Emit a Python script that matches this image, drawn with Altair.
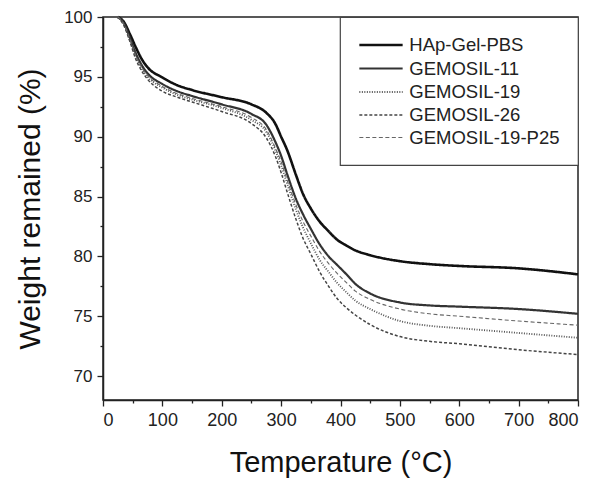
import altair as alt
import pandas as pd

temperature = [25, 35, 45, 55, 65, 75, 100, 125, 150, 200, 250, 275, 290, 300, 310,
               325, 337, 350, 365, 380, 394, 410, 425, 450, 500, 550, 600, 700, 800]

hap_gel_pbs = [100, 99.6, 98.6, 97.5, 96.5, 95.8, 94.95, 94.3, 93.9, 93.3, 92.7, 92.0, 91.1, 90.0, 88.9,
               86.8, 85.2, 84.0, 82.9, 82.1, 81.4, 80.9, 80.5, 80.1, 79.6, 79.35, 79.2, 79.0, 78.5]
gemosil_11 = [100, 99.5, 98.3, 97.0, 96.0, 95.3, 94.4, 93.8, 93.4, 92.7, 91.9, 91.0, 89.6, 88.4, 86.9,
              84.8, 83.5, 82.3, 81.0, 80.0, 79.3, 78.5, 77.7, 76.9, 76.15, 75.9, 75.8, 75.6, 75.2]
gemosil_19 = [100, 99.4, 98.1, 96.7, 95.7, 95.0, 94.1, 93.5, 93.1, 92.4, 91.4, 90.4, 88.9, 87.6, 86.1,
              83.9, 82.4, 81.1, 79.7, 78.7, 77.8, 77.0, 76.3, 75.6, 74.6, 74.2, 74.0, 73.6, 73.2]
gemosil_26 = [100, 99.3, 98.0, 96.5, 95.5, 94.8, 93.8, 93.3, 92.9, 92.1, 91.1, 89.9, 88.4, 87.0, 85.4,
              83.1, 81.5, 80.2, 78.7, 77.5, 76.5, 75.7, 75.1, 74.3, 73.3, 72.9, 72.7, 72.2, 71.8]
gemosil_19_p25 = [100, 99.4, 98.2, 96.8, 95.8, 95.1, 94.2, 93.6, 93.2, 92.5, 91.6, 90.6, 89.1, 87.9, 86.4,
                  84.3, 82.9, 81.7, 80.4, 79.4, 78.6, 77.8, 77.1, 76.4, 75.6, 75.2, 75.0, 74.6, 74.25]

series_names = ["HAp-Gel-PBS", "GEMOSIL-11", "GEMOSIL-19", "GEMOSIL-26", "GEMOSIL-19-P25"]
series_values = [hap_gel_pbs, gemosil_11, gemosil_19, gemosil_26, gemosil_19_p25]

x_major = [0, 100, 200, 300, 400, 500, 600, 700, 800]
x_minor = [50, 150, 250, 350, 450, 550, 650, 750]
y_major = [70, 75, 80, 85, 90, 95, 100]
y_minor = [72.5, 77.5, 82.5, 87.5, 92.5, 97.5]

rows = []
for name, vals in zip(series_names, series_values):
    for t, w in zip(temperature, vals):
        rows.append({"T": t, "W": w, "series": name})
df = pd.DataFrame(rows)

FONT = "Liberation Sans"
xscale = alt.Scale(domain=[0, 800], nice=False, zero=False)
yscale = alt.Scale(domain=[68, 100], nice=False, zero=False)

lines = alt.Chart(df).mark_line(interpolate="monotone").encode(
    x=alt.X("T:Q", scale=xscale,
            axis=alt.Axis(values=x_major, title="Temperature (°C)", orient="bottom",
                          tickSize=6, labelPadding=5, titlePadding=19, titleFontSize=29,
                          titleFontWeight="normal", labelFontSize=18, grid=False)),
    y=alt.Y("W:Q", scale=yscale,
            axis=alt.Axis(values=y_major, title="Weight remained (%)", orient="left",
                          tickSize=6, labelPadding=5, titlePadding=18, titleFontSize=30,
                          titleFontWeight="normal", labelFontSize=17, grid=False)),
    color=alt.Color("series:N", scale=alt.Scale(domain=series_names,
                    range=["#111111", "#333333", "#555555", "#444444", "#666666"]),
                    legend=alt.Legend(title=None)),
    strokeDash=alt.StrokeDash("series:N", scale=alt.Scale(domain=series_names,
                    range=[[1, 0], [1, 0], [1, 1.5], [3, 2], [4, 2.5]]),
                    legend=alt.Legend(title=None)),
    strokeWidth=alt.StrokeWidth("series:N", scale=alt.Scale(domain=series_names,
                    range=[2.6, 1.1, 1.1, 1.2, 1.1]),
                    legend=alt.Legend(title=None)),
)

minor = alt.Chart(df).mark_line(opacity=0).encode(
    x=alt.X("T:Q", scale=xscale,
            axis=alt.Axis(values=x_minor, orient="bottom", labels=False, domain=False,
                          tickSize=3, title=None, grid=False)),
    y=alt.Y("W:Q", scale=yscale,
            axis=alt.Axis(values=y_minor, orient="left", labels=False, domain=False,
                          tickSize=3, title=None, grid=False)),
)

chart = alt.layer(lines, minor).resolve_axis(x="independent", y="independent").properties(
    width=475, height=383,
    autosize=alt.AutoSizeParams(type="none"),
    padding={"left": 95, "top": 9, "right": 15, "bottom": 85},
).configure_view(
    stroke="#222222", strokeWidth=1.5
).configure_axis(
    domainColor="#222222", domainWidth=1.5, tickColor="#222222", tickWidth=1.3,
    labelColor="#222222", titleColor="#111111", labelFont=FONT, titleFont=FONT,
).configure_legend(
    orient="top-right", offset=0, padding=18, strokeColor="#444444", strokeWidth=1.2,
    fillColor="white", labelFont=FONT, labelFontSize=18.5, labelColor="#222222",
    symbolType="M0,0H5", symbolSize=300, symbolOffset=-8.66, labelOffset=40, rowPadding=3.5,
)

chart.save("out.html", embed_options={"renderer": "svg", "actions": False})
